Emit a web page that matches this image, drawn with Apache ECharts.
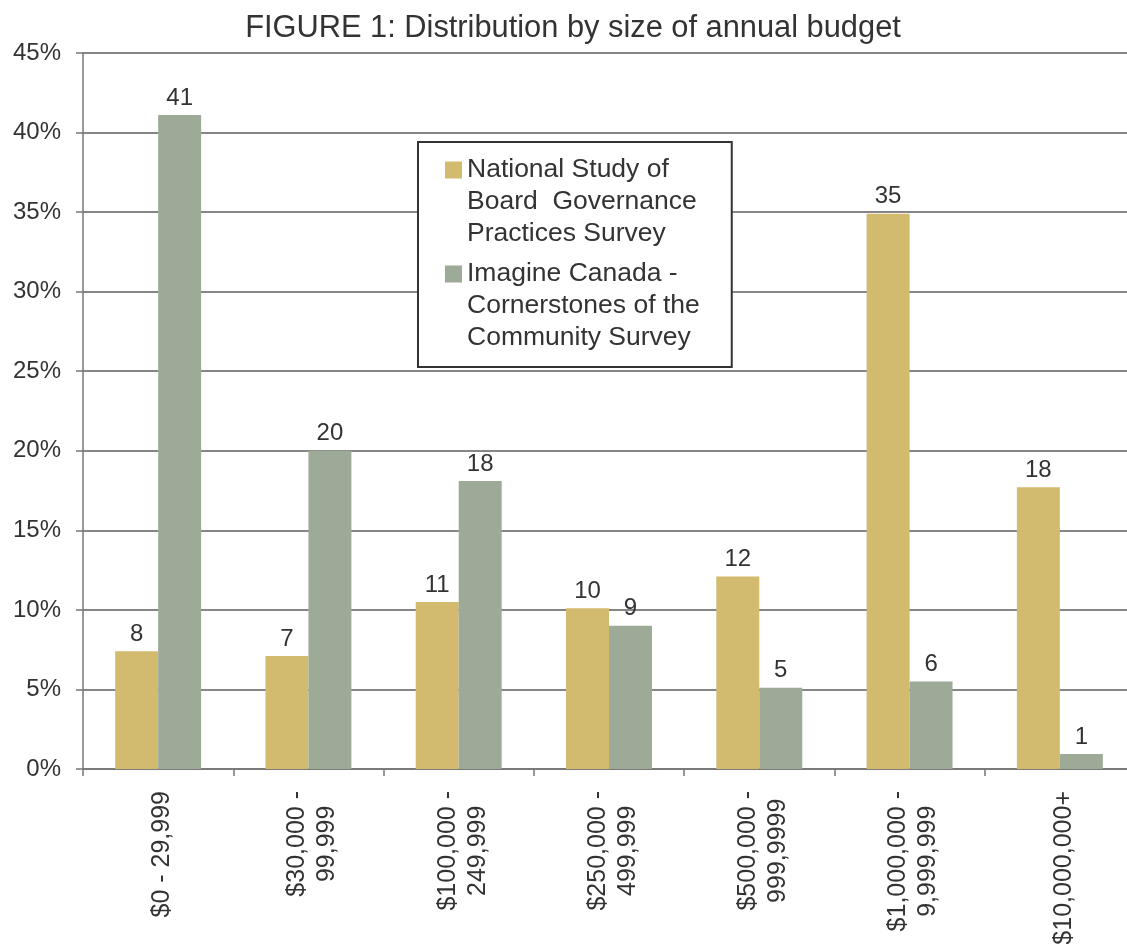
<!DOCTYPE html>
<html>
<head>
<meta charset="utf-8">
<script src="https://cdn.jsdelivr.net/npm/echarts@6/dist/echarts.min.js"></script>
<style>
html,body{margin:0;padding:0;background:#fff;}
#c{width:1127px;height:944px;}
</style>
</head>
<body>
<div id="c"></div>
<script>
var categories = ['$0 - 29,999', '$30,000 -\n99,999', '$100,000 -\n249,999', '$250,000 -\n499,999', '$500,000 -\n999,9999', '$1,000,000 -\n9,999,999', '$10,000,000+'];
var nationalValues = [7.4, 7.1, 10.5, 10.1, 12.1, 34.9, 17.7];
var nationalLabels = ['8', '7', '11', '10', '12', '35', '18'];
var imagineValues = [41.1, 20.0, 18.1, 9.0, 5.1, 5.5, 0.95];
var imagineLabels = ['41', '20', '18', '9', '5', '6', '1'];
var yTicks = [0, 5, 10, 15, 20, 25, 30, 35, 40, 45];
var seriesNames = ['National Study of\nBoard  Governance\nPractices Survey', 'Imagine Canada -\nCornerstones of the\nCommunity Survey'];

var FONT = "'Liberation Sans', Arial, sans-serif";
var TXT = '#333';
var chart = echarts.init(document.getElementById('c'));
var legendIcon = 'path://M0,0L0.001,0M0,7.5h17v17h-17zM0,96L0.001,96';

function mkData(vals, labs) {
  return vals.map(function (v, i) { return { value: v, lbl: labs[i] }; });
}

chart.setOption({
  animation: false,
  backgroundColor: '#fff',
  title: {
    text: 'FIGURE 1: Distribution by size of annual budget',
    left: 568, top: 8, textAlign: 'center',
    textStyle: { fontFamily: FONT, fontSize: 30.8, fontWeight: 'normal', color: TXT }
  },
  legend: {
    orient: 'vertical',
    left: 418, top: 142,
    padding: [12, 32, 13, 27],
    borderColor: '#333', borderWidth: 2,
    backgroundColor: '#fff',
    itemWidth: 17, itemHeight: 96,
    itemGap: 8,
    itemTextGap: 6,
    icon: legendIcon,
    selectedMode: false,
    textStyle: { fontFamily: FONT, fontSize: 26.5, color: TXT, lineHeight: 32 },
    data: seriesNames
  },
  grid: { left: 83, right: -8, top: 53, bottom: 175, containLabel: false, outerBoundsMode: 'none' },
  xAxis: {
    type: 'category',
    data: categories,
    axisLine: { lineStyle: { color: '#777', width: 1.5 } },
    axisTick: { show: true, length: 7, lineStyle: { color: '#777', width: 1.5 } },
    axisLabel: {
      rotate: 90, margin: 22, interval: 0,
      fontFamily: FONT, fontSize: 25, color: TXT, lineHeight: 30,
      padding: [8, 0, 0, 0],
      formatter: function (v) {
        return v.split('\n').map(function (l) { return '{c|' + l + '}'; }).join('\n');
      },
      rich: { c: { align: 'center', fontFamily: FONT, fontSize: 25, color: TXT, lineHeight: 30 } }
    }
  },
  yAxis: {
    type: 'value',
    min: yTicks[0], max: yTicks[yTicks.length - 1], interval: 5,
    axisLine: { show: true, lineStyle: { color: '#777', width: 1.5 } },
    axisTick: { show: true, length: 7, lineStyle: { color: '#777', width: 1.5 } },
    splitLine: { lineStyle: { color: '#5e5e5e', width: 1.5 } },
    axisLabel: {
      margin: 22, fontFamily: FONT, fontSize: 24, color: TXT,
      formatter: '{value}%'
    }
  },
  series: [
    {
      name: seriesNames[0], type: 'bar',
      data: mkData(nationalValues, nationalLabels),
      barGap: '0%', barCategoryGap: '42.8%',
      itemStyle: { color: '#D2BA6E' },
      label: {
        show: true, position: 'top', distance: 5,
        fontFamily: FONT, fontSize: 24, color: TXT,
        formatter: function (p) { return p.data.lbl; }
      }
    },
    {
      name: seriesNames[1], type: 'bar',
      data: mkData(imagineValues, imagineLabels),
      barGap: '0%', barCategoryGap: '42.8%',
      itemStyle: { color: '#9DAA98' },
      label: {
        show: true, position: 'top', distance: 5,
        fontFamily: FONT, fontSize: 24, color: TXT,
        formatter: function (p) { return p.data.lbl; }
      }
    }
  ]
});
</script>
</body>
</html>
